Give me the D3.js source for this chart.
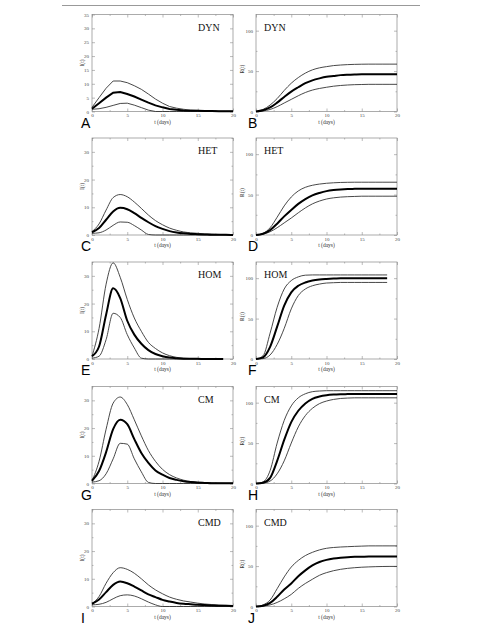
<!DOCTYPE html>
<html lang="en">
  <head>
    <meta charset="UTF-8" />
    <title>Epidemic curves</title>
    <style>
      body { margin: 0; background: #fff; }
      .line-thin { fill: none; stroke: #333; stroke-width: 0.9; }
      .line-mean { fill: none; stroke: #000; stroke-width: 2; }
      .tick text { font-family: "Liberation Serif", serif; font-size: 5px; fill: #444; }
      .tick line { stroke: #777; stroke-width: 0.5; }
      .domain { display: none; }
    </style>
  </head>
  <body>
    <script src="https://d3js.org/d3.v7.min.js"></script>
    <script>
      // time points (days)
      const days = [0, 1, 2, 3, 4, 5, 6, 7, 8, 9, 10, 11, 12, 13, 14, 15, 16, 17, 18, 19, 20];
      const daysHom = [0, 1, 2, 3, 4, 5, 6, 7, 8, 9, 10, 11, 12, 13, 14, 15, 16, 17, 18, 18.6];

      // I(t) curves: upper, mean, lower
      const dynIUpper = [1.5, 5, 8.4, 11, 11, 10.4, 9.3, 8, 6.3, 4.5, 3, 1.8, 1.2, 0.8, 0.5, 0.4, 0.3, 0.2, 0.1, 0.1, 0.1];
      const dynIMean = [1, 3, 5, 6.8, 7, 6.3, 5.4, 4.3, 3.2, 2.2, 1.5, 0.9, 0.6, 0.4, 0.3, 0.3, 0.2, 0.2, 0.1, 0.1, 0.1];
      const dynILower = [0.8, 1, 1.5, 2.2, 2.9, 3, 2.3, 1.4, 0.5, 0, 0, 0, 0, 0, 0, 0, 0, 0, 0, 0, 0];

      const hetIUpper = [1.2, 4, 9, 13.5, 14.6, 13.8, 11.9, 9.6, 7.2, 5.2, 3.7, 2.5, 1.7, 1.1, 0.8, 0.6, 0.4, 0.3, 0.2, 0.1, 0.1];
      const hetIMean = [1, 2.5, 5.5, 8.5, 9.8, 9.3, 7.9, 6.2, 4.6, 3.2, 2.2, 1.4, 0.9, 0.6, 0.4, 0.3, 0.2, 0.1, 0.1, 0.05, 0];
      const hetILower = [0.6, 0.8, 1.8, 3.5, 4.7, 4.6, 3.4, 1.8, 0.2, 0, 0, 0, 0, 0, 0, 0, 0, 0, 0, 0, 0];

      const homIUpper = [1, 11, 27, 34.7, 29.5, 21.5, 14.8, 10, 6, 3.8, 2.2, 1.2, 0.6, 0.3, 0.15, 0.1, 0.05, 0, 0, 0];
      const homIMean = [1, 4.5, 16, 25.5, 22, 13.8, 8.8, 5.5, 3.2, 1.8, 1, 0.5, 0.25, 0.1, 0.05, 0.05, 0, 0, 0, 0];
      const homILower = [0.3, 1, 7, 16.5, 15, 8.8, 4, 0.3, 0, 0, 0, 0, 0, 0, 0, 0, 0, 0, 0, 0];

      const cmIUpper = [1, 8, 19.6, 29, 31.2, 28.5, 23, 17.2, 11.9, 8, 5.1, 3.2, 2, 1.2, 0.7, 0.5, 0.3, 0.2, 0.15, 0.1, 0.1];
      const cmIMean = [1, 4.5, 11.3, 19.6, 23, 21.4, 16, 11, 7.4, 4.7, 3.2, 2, 1.3, 0.8, 0.5, 0.3, 0.2, 0.1, 0.1, 0.1, 0.1];
      const cmILower = [0.5, 1, 3.5, 8.9, 14.5, 14.2, 8.9, 4.2, 0.4, 0, 0, 0, 0, 0, 0, 0, 0, 0, 0, 0, 0];

      const cmdIUpper = [1, 3.6, 8.4, 12.2, 14, 13.4, 12, 10, 7.8, 6, 4.6, 3.4, 2.6, 2, 1.6, 1.2, 0.9, 0.7, 0.5, 0.4, 0.3];
      const cmdIMean = [1, 2.5, 5.2, 7.8, 9, 8.4, 7.2, 5.8, 4.4, 3.4, 2.4, 1.8, 1.3, 1, 0.8, 0.6, 0.5, 0.4, 0.3, 0.3, 0.2];
      const cmdILower = [0.6, 0.8, 1.5, 2.8, 3.9, 4.2, 3.8, 2.8, 1.6, 0.6, 0, 0, 0, 0, 0, 0, 0, 0, 0, 0, 0];

      // R(t) curves: upper, mean, lower
      const dynRUpper = [0, 2.5, 8, 16, 26, 35, 42, 47.5, 51.5, 54, 55.5, 56.8, 57.5, 58, 58.3, 58.5, 58.6, 58.6, 58.6, 58.6, 58.6];
      const dynRMean = [0, 1.5, 5, 11, 18, 24.6, 30, 35, 38.5, 41, 43, 44, 45, 45.5, 45.8, 46, 46, 46, 46, 46, 46];
      const dynRLower = [0, 0.7, 2.5, 6, 10.5, 15, 19.5, 23.5, 26.5, 28.5, 30, 31.3, 32.2, 32.8, 33.2, 33.4, 33.6, 33.6, 33.6, 33.6, 33.6];

      const hetRUpper = [0, 2, 9, 22, 36, 47, 54.5, 59, 61.5, 63, 64, 64.6, 65, 65.2, 65.3, 65.3, 65.3, 65.3, 65.3, 65.3, 65.3];
      const hetRMean = [0, 1.5, 6, 14, 23, 31, 38.5, 44.5, 49, 52, 54.3, 55.6, 56.4, 56.9, 57.1, 57.3, 57.3, 57.3, 57.3, 57.3, 57.3];
      const hetRLower = [0, 1, 4, 9, 15, 21, 27.5, 33.5, 38.5, 42, 44.5, 46, 46.9, 47.4, 47.7, 48, 48, 48, 48, 48, 48];

      const homRUpper = [0, 4, 32, 64, 86.6, 97, 101.6, 103.7, 104, 104, 104, 104, 104, 104, 104, 104, 104, 104, 104, 104];
      const homRMean = [0, 2, 15, 40, 66, 82.5, 90.6, 94.7, 97, 98.3, 99, 99.5, 99.8, 100, 100, 100, 100, 100, 100, 100];
      const homRLower = [0, 0.5, 5, 18, 37.8, 62, 78.5, 86.6, 90.6, 92.7, 94, 94.4, 94.7, 94.7, 94.7, 94.7, 94.7, 94.7, 94.7, 94.7];

      const cmRUpper = [0, 2, 16, 50, 78, 96, 106, 111, 113.6, 114.4, 114.8, 114.8, 114.8, 114.8, 114.8, 114.8, 114.8, 114.8, 114.8, 114.8, 114.8];
      const cmRMean = [0, 1, 7, 28, 54, 76, 90, 99, 104.8, 107.6, 109.2, 110, 110.4, 110.6, 110.8, 110.8, 110.8, 110.8, 110.8, 110.8, 110.8];
      const cmRLower = [0, 0.5, 3, 12, 28, 50, 70, 84, 93, 98.8, 102, 104, 105.2, 105.7, 106, 106, 106, 106, 106, 106, 106];

      const cmdRUpper = [0, 2, 8, 22, 36.6, 48.8, 57, 63, 67, 70, 72, 73, 73.6, 74, 74.4, 74.7, 75, 75, 75, 75, 75];
      const cmdRMean = [0, 1, 4.5, 12, 21, 28.5, 37.4, 44.7, 50.8, 55, 57.7, 59.3, 60.3, 61, 61.4, 61.6, 61.8, 61.9, 62, 62, 62];
      const cmdRLower = [0, 0.5, 2, 5, 9.5, 15, 22.4, 28.5, 33.7, 38.6, 41.9, 44.3, 46, 47.2, 48, 48.6, 49, 49.3, 49.5, 49.6, 49.6];

      const models = ["DYN", "HET", "HOM", "CM", "CMD"];
      const letters = ["A", "B", "C", "D", "E", "F", "G", "H", "I", "J"];
      const xTicks = [0, 5, 10, 15, 20];
      const xMinor = [2.5, 7.5, 12.5, 17.5];
      const iTicksA = [0, 5, 10, 15, 20, 25, 30, 35];
      const iTicks = [0, 10, 20, 30];
      const iMinor = [5, 15, 25, 35];
      const rTicks = [0, 50, 100];
      const rMinor = [25, 75];

      const iSeries = [
        [dynIUpper, dynIMean, dynILower],
        [hetIUpper, hetIMean, hetILower],
        [homIUpper, homIMean, homILower],
        [cmIUpper, cmIMean, cmILower],
        [cmdIUpper, cmdIMean, cmdILower],
      ];
      const rSeries = [
        [dynRUpper, dynRMean, dynRLower],
        [hetRUpper, hetRMean, hetRLower],
        [homRUpper, homRMean, homRLower],
        [cmRUpper, cmRMean, cmRLower],
        [cmdRUpper, cmdRMean, cmdRLower],
      ];

      const W = 478, H = 628;
      const colLeft = [92, 256];
      const plotW = 141;
      const plotH = 97;
      const rowTop = [14.5, 138, 262, 386.5, 509.5];

      const svg = d3.select("body").append("svg")
        .attr("width", W).attr("height", H);

      // thin rule at the top of the page
      svg.append("line")
        .attr("x1", 62).attr("x2", 420).attr("y1", 5.5).attr("y2", 5.5)
        .attr("stroke", "#999").attr("stroke-width", 1.2);

      function drawPanel(row, col) {
        const left = colLeft[col];
        const top = rowTop[row];
        const isI = col === 0;
        const t = row === 2 ? daysHom : days;
        const curves = isI ? iSeries[row] : rSeries[row];

        const x = d3.scaleLinear().domain([0, 20]).range([0, plotW]);
        const y = d3.scaleLinear().domain(isI ? [0, 35] : [0, 120]).range([plotH, 0]);

        const g = svg.append("g").attr("transform", `translate(${left}, ${top})`);

        const majorY = isI ? (row === 0 ? iTicksA : iTicks) : rTicks;
        const minorY = isI ? (row === 0 ? [] : iMinor) : rMinor;

        // labelled axes with inward ticks
        g.append("g").attr("transform", `translate(0, ${plotH})`)
          .call(d3.axisBottom(x).tickValues(xTicks).tickSize(-3).tickPadding(2));
        g.append("g")
          .call(d3.axisLeft(y).tickValues(majorY).tickSize(-3).tickPadding(3));
        // mirrored ticks
        g.append("g")
          .call(d3.axisTop(x).tickValues(xTicks).tickSize(-3).tickFormat(""));
        g.append("g").attr("transform", `translate(${plotW}, 0)`)
          .call(d3.axisRight(y).tickValues(majorY).tickSize(-3).tickFormat(""));
        // minor ticks
        g.append("g").attr("transform", `translate(0, ${plotH})`)
          .call(d3.axisBottom(x).tickValues(xMinor).tickSize(-1.5).tickFormat(""));
        g.append("g")
          .call(d3.axisTop(x).tickValues(xMinor).tickSize(-1.5).tickFormat(""));
        g.append("g")
          .call(d3.axisLeft(y).tickValues(minorY).tickSize(-1.5).tickFormat(""));
        g.append("g").attr("transform", `translate(${plotW}, 0)`)
          .call(d3.axisRight(y).tickValues(minorY).tickSize(-1.5).tickFormat(""));

        g.append("rect")
          .attr("width", plotW).attr("height", plotH)
          .attr("fill", "none").attr("stroke", "#888").attr("stroke-width", 0.7);

        const line = d3.line()
          .x((d, i) => x(t[i]))
          .y((d) => y(d))
          .curve(isI && row === 0 ? d3.curveLinear : d3.curveMonotoneX);

        // thin bounds first, mean on top
        [curves[0], curves[2]].forEach((c) => {
          g.append("path").attr("class", "line-thin").attr("d", line(c));
        });
        g.append("path").attr("class", "line-mean").attr("d", line(curves[1]));

        // model label
        g.append("text")
          .attr("x", isI ? 106 : 8)
          .attr("y", 16)
          .attr("font-family", "Liberation Serif, serif")
          .attr("font-size", 10)
          .attr("fill", "#111")
          .text(models[row]);

        // axis titles
        g.append("text")
          .attr("x", plotW / 2).attr("y", plotH + 12)
          .attr("text-anchor", "middle")
          .attr("font-family", "Liberation Serif, serif")
          .attr("font-size", 5.5).attr("fill", "#333")
          .text("t (days)");
        g.append("text")
          .attr("transform", `translate(${isI ? -8 : -12}, ${plotH / 2 + (isI ? 0 : 6)}) rotate(-90)`)
          .attr("text-anchor", "middle")
          .attr("font-family", "Liberation Serif, serif")
          .attr("font-size", 5.5).attr("fill", "#333")
          .text(isI ? "I(t)" : "R(t)");

        // panel letter
        svg.append("text")
          .attr("x", isI ? 81 : 248)
          .attr("y", top + plotH + 16)
          .attr("font-family", "Liberation Sans, Arial, sans-serif")
          .attr("font-size", 14)
          .attr("fill", "#000")
          .text(letters[row * 2 + col]);
      }

      for (let r = 0; r < 5; r++) {
        drawPanel(r, 0);
        drawPanel(r, 1);
      }
    </script>
  </body>
</html>
